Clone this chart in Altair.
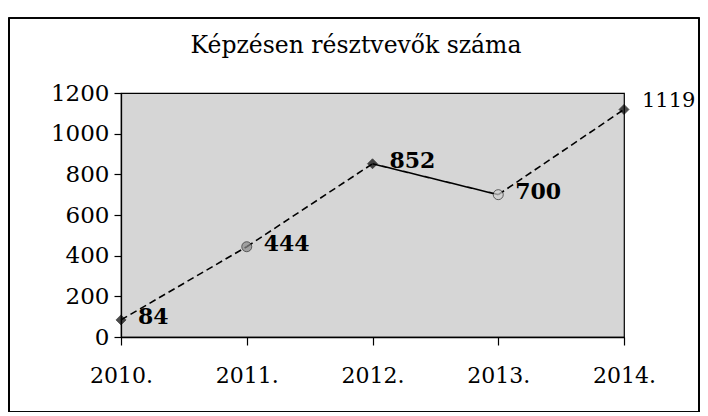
import altair as alt
import pandas as pd

title_text = ["Képzésen résztvevők száma"]
years = ["2010.", "2011.", "2012.", "2013.", "2014."]
values = [84, 444, 852, 700, 1119]
markers = ["diamond", "circle", "diamond", "circle", "diamond"]
marker_fill = ["black", "#8a8a8a", "black", "#cfcfcf", "black"]
segment_style = ["dashed", "dashed", "solid", "dashed"]
y_ticks = [0, 200, 400, 600, 800, 1000, 1200]

pts = pd.DataFrame({"year": years, "value": values, "marker": markers, "mfill": marker_fill})

seg_rows = []
for i, st in enumerate(segment_style):
    seg_rows.append({"seg": i, "year": years[i], "value": values[i], "style": st})
    seg_rows.append({"seg": i, "year": years[i + 1], "value": values[i + 1], "style": st})
segs = pd.DataFrame(seg_rows)

SERIF = "DejaVu Serif"

x_enc = alt.X("year:N", sort=years, scale=alt.Scale(type="point", padding=0),
              axis=alt.Axis(title=None, labelAngle=0, labelFont=SERIF, labelFontSize=22,
                            labelColor="black", domainColor="black", domainWidth=1.3,
                            tickColor="black", tickWidth=1.2,
                            tickSize=8, labelPadding=20, grid=False))
y_enc = alt.Y("value:Q", scale=alt.Scale(domain=[0, 1200], nice=False),
              axis=alt.Axis(title=None, values=y_ticks, format="d", labelFont=SERIF,
                            labelFontSize=23, labelColor="black", domainColor="black",
                            domainWidth=1.3, tickColor="black", tickWidth=1.2,
                            tickSize=7, labelPadding=5, grid=False))

border = alt.Chart(pts).mark_rect(fill=None, stroke="black", strokeWidth=1.2).encode(
    x=alt.value(-112), x2=alt.value(578), y=alt.value(-75), y2=alt.value(319)
)

title = alt.Chart(pd.DataFrame({"t": title_text})).mark_text(
    font=SERIF, fontSize=23.5, color="black", align="center", baseline="middle"
).encode(x=alt.value(235), y=alt.value(-47), text="t:N")

lines = alt.Chart(segs).mark_line(color="black", strokeWidth=1.6).encode(
    x=x_enc, y=y_enc, detail="seg:N",
    strokeDash=alt.StrokeDash("style:N", scale=alt.Scale(domain=["dashed", "solid"],
                                                        range=[[7, 4], [1, 0]]), legend=None)
)

points = alt.Chart(pts).mark_point(filled=True, size=100, stroke="black", strokeWidth=0.8).encode(
    x=x_enc, y=y_enc,
    shape=alt.Shape("marker:N", scale=None),
    fill=alt.Fill("mfill:N", scale=None),
)

bold_labels = alt.Chart(pts.iloc[:4]).mark_text(
    align="left", baseline="middle", dx=17, dy=-3, font=SERIF, fontSize=22,
    fontWeight="bold", color="black"
).encode(x=x_enc, y=y_enc, text=alt.Text("value:Q"))

last_label = alt.Chart(pts.iloc[4:]).mark_text(
    align="left", baseline="middle", dx=18, dy=-8, font=SERIF, fontSize=21,
    fontWeight="normal", color="black"
).encode(x=x_enc, y=y_enc, text=alt.Text("value:Q"))

chart = alt.layer(border, title, lines, points, bold_labels, last_label).properties(
    width=503, height=244,
    background="white",
    autosize=alt.AutoSizeParams(type="none"),
    padding={"left": 113, "top": 85, "right": 76, "bottom": 75},
).configure_view(fill="#d6d6d6", stroke="black", strokeWidth=1.2)

chart.save("out.html", embed_options={"renderer": "svg", "actions": False})
